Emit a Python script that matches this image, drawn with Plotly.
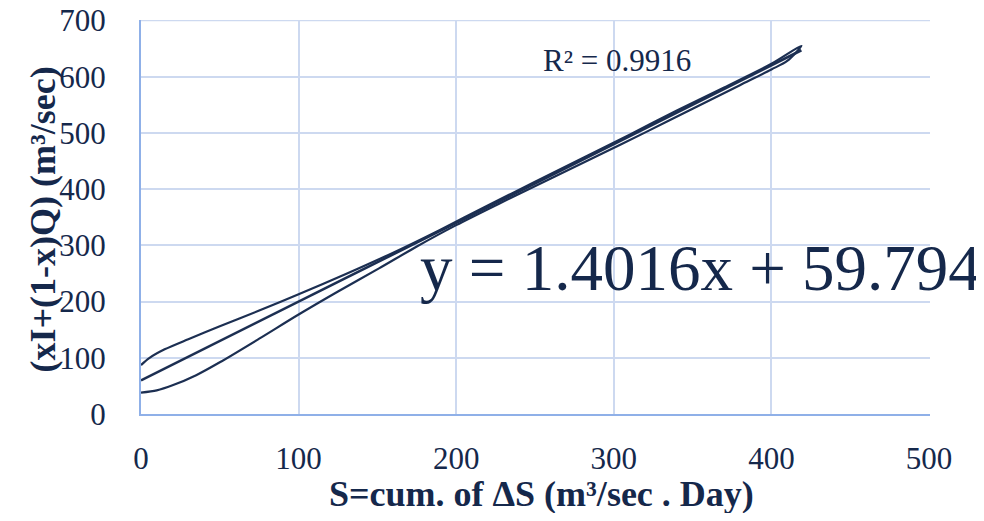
import plotly.graph_objects as go

# Loop data (rising limb then falling limb), S = cumulative storage
rise_S = [0, 10, 20, 35, 50, 75, 100, 125, 151, 175, 200, 230, 260, 290, 320, 350, 380, 400, 410, 419]
rise_Y = [38, 42, 51, 69, 92, 134, 177, 218, 259, 298, 336, 378, 419, 460, 501, 543, 585, 613, 628, 655]
fall_S = [400, 370, 340, 310, 280, 250, 220, 190, 160, 130, 100, 75, 50, 30, 15, 5, 0]
fall_Y = [623, 581, 540, 497, 455, 413, 371, 328, 287, 249, 213, 184, 156, 133, 115, 99, 87]

S_vals = rise_S + fall_S
Y_vals = rise_Y + fall_Y

slope = 1.4016
intercept = 59.794
r2 = 0.9916
trend_x = [0, max(S_vals)]
trend_y = [slope * v + intercept for v in trend_x]

x_ticks = [0, 100, 200, 300, 400, 500]
y_ticks = [0, 100, 200, 300, 400, 500, 600, 700]

FONT = "Liberation Serif, Times New Roman, serif"
TXT = "#15284b"
LINE = "#1c2f52"
GRID = "#cdd9f0"
AXIS = "#8fb0e8"

fig = go.Figure()
fig.add_trace(go.Scatter(x=S_vals, y=Y_vals, mode="lines",
                         line=dict(color=LINE, width=2.2, shape="spline", smoothing=0.8),
                         showlegend=False, hoverinfo="skip"))
fig.add_trace(go.Scatter(x=trend_x, y=trend_y, mode="lines",
                         line=dict(color=LINE, width=2.6),
                         showlegend=False, hoverinfo="skip"))

# top gridline (at the last y tick), drawn under the data
fig.add_hline(y=y_ticks[-1], line=dict(color=GRID, width=1.5), layer="below")

fig.update_layout(
    width=976, height=505,
    margin=dict(l=133, r=54, t=12, b=99, autoexpand=False),
    paper_bgcolor="white", plot_bgcolor="white",
    font=dict(family=FONT, color=TXT),
    xaxis=dict(range=[0, 500.6], tickvals=x_ticks, showgrid=True, gridcolor=GRID, gridwidth=1.5,
               showline=True, linecolor=AXIS, linewidth=2, zeroline=False, automargin=False,
               tickfont=dict(family=FONT, size=31, color=TXT), ticks="",
               ticklabelstandoff=16, ticklabeloverflow="allow"),
    yaxis=dict(range=[0, 700.9], tickvals=y_ticks, showgrid=True, gridcolor=GRID, gridwidth=1.5,
               showline=True, linecolor=AXIS, linewidth=2, zeroline=False, automargin=False,
               tickfont=dict(family=FONT, size=31, color=TXT), ticks="",
               ticklabelstandoff=27, ticklabeloverflow="allow"),
    annotations=[
        dict(text="R² = 0.9916", x=0.603, y=0.898, xref="paper", yref="paper",
             xanchor="center", yanchor="middle",
             showarrow=False, font=dict(family=FONT, size=31, color=TXT)),
        dict(text="y = 1.4016x + 59.794", x=0.7085, y=0.37, xref="paper", yref="paper",
             xanchor="center", yanchor="middle",
             showarrow=False, font=dict(family=FONT, size=65, color=TXT)),
        dict(text="<b>S=cum. of ΔS (m³/sec . Day)</b>", x=0.507, y=-0.203,
             xref="paper", yref="paper", showarrow=False,
             xanchor="center", yanchor="middle",
             font=dict(family=FONT, size=36, color=TXT)),
        dict(text="<b>(xI+(1-x)Q) (m³/sec)</b>", x=-0.124, y=0.494,
             xref="paper", yref="paper", showarrow=False, textangle=-90,
             xanchor="center", yanchor="middle",
             font=dict(family=FONT, size=36, color=TXT)),
    ],
)

fig.write_html("out.html")
